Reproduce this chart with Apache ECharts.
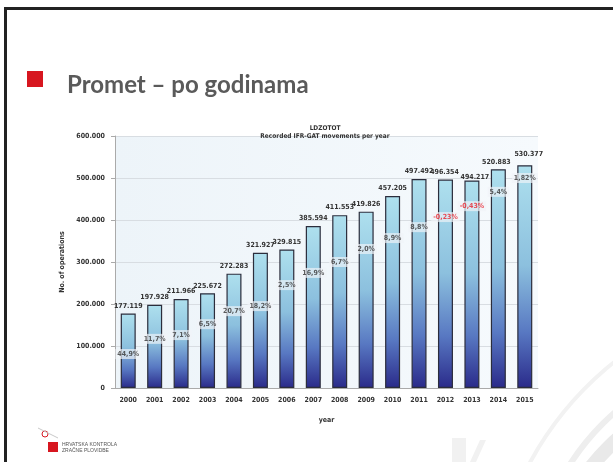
<!DOCTYPE html>
<html>
<head>
<meta charset="utf-8">
<script src="https://cdn.jsdelivr.net/npm/echarts@6/dist/echarts.min.js"></script>
<style>
html,body{margin:0;padding:0;background:#fff;}
#c{width:613px;height:462px;}
</style>
</head>
<body>
<div id="c"></div>
<script>
const years = ['2000','2001','2002','2003','2004','2005','2006','2007','2008','2009','2010','2011','2012','2013','2014','2015'];
const movements = [177119,197928,211966,225672,272283,321927,329815,385594,411553,419826,457205,497492,496354,494217,520883,530377];
const growthLabels = ['44,9%','11,7%','7,1%','6,5%','20,7%','18,2%','2,5%','16,9%','6,7%','2,0%','8,9%','8,8%','-0,23%','-0,43%','5,4%','1,82%'];
// vertical anchor (in operations) where each growth label sits inside its bar
const growthLabelPos = [81000,117000,126000,152000,183000,195000,245000,274000,300000,331000,357000,383000,407000,433000,467000,500000];
const yMin = 0, yMax = 600000, yStep = 100000;

function fmt(v){ return String(v).replace(/\B(?=(\d{3})+(?!\d))/g, '.'); }

const chart = echarts.init(document.getElementById('c'), null, {renderer:'canvas'});
const F = 'DejaVu Sans Condensed, DejaVu Sans';
const axisFont = {fontFamily:F, fontWeight:'bold', fontSize:7, color:'#333'};
// small per-label nudges so crowded value labels do not collide
const valueLabelOffsets = {12:[-1,0], 13:[3,4], 14:[-2,0], 15:[4,-4]};

chart.setOption({
  animation:false,
  backgroundColor:'#ffffff',
  title:[
    {text:'Promet – po godinama', left:62, top:68,
     textStyle:{fontFamily:'Lato', fontWeight:'bold', fontSize:24, color:'#5a5a5a'}},
    {text:'LDZOTOT', subtext:'Recorded IFR-GAT movements per year', left:320, top:120, textAlign:'center', itemGap:1,
     textStyle:{fontFamily:F, fontWeight:'bold', fontSize:6.5, color:'#333'},
     subtextStyle:{fontFamily:F, fontWeight:'bold', fontSize:6.5, color:'#333'}}
  ],
  graphic:[
    {type:'rect', shape:{x:5, y:7, width:610, height:3}, style:{fill:'#222'}},
    {type:'rect', shape:{x:4, y:7, width:3, height:460}, style:{fill:'#222'}},
    {type:'rect', shape:{x:27, y:71, width:16, height:16}, style:{fill:'#d7161f'}},
    {type:'arc', shape:{cx:820, cy:620, r:330, startAngle:Math.PI*1.05, endAngle:Math.PI*1.5}, style:{stroke:'#f2f2f2', lineWidth:4, fill:null}, z:-1},
    {type:'arc', shape:{cx:780, cy:600, r:250, startAngle:Math.PI*1.0, endAngle:Math.PI*1.5}, style:{stroke:'#eeeeee', lineWidth:6, fill:null}, z:-1},
    {type:'arc', shape:{cx:760, cy:600, r:215, startAngle:Math.PI*1.0, endAngle:Math.PI*1.5}, style:{stroke:'#e9e9e9', lineWidth:14, fill:null}, z:-1},
    {type:'arc', shape:{cx:740, cy:610, r:175, startAngle:Math.PI*1.0, endAngle:Math.PI*1.5}, style:{stroke:'#e6e6e6', lineWidth:16, fill:null}, z:-1},
    {type:'rect', shape:{x:452, y:438, width:14, height:30}, style:{fill:'#f1f1f1'}, z:-1},
    {type:'polygon', shape:{points:[[470,462],[480,440],[486,440],[476,462]]}, style:{fill:'#f1f1f1'}, z:-1},
    {type:'rect', shape:{x:48, y:442, width:10, height:10}, style:{fill:'#d7161f'}},
    {type:'circle', shape:{cx:45, cy:434, r:3}, style:{fill:'none', stroke:'#d7161f', lineWidth:1}},
    {type:'line', shape:{x1:38, y1:428, x2:58, y2:438}, style:{stroke:'#c9c9c9', lineWidth:1}},
    {type:'text', style:{x:62, y:441, text:'HRVATSKA KONTROLA\nZRAČNE PLOVIDBE', fontSize:5, lineHeight:6.5, fontFamily:'Liberation Sans Narrow, Liberation Sans', fill:'#555'}}
  ],
  grid:{left:115, top:136, width:423, height:252, show:true, borderWidth:0,
        backgroundColor:{type:'linear', x:0, y:0, x2:1, y2:0, colorStops:[{offset:0,color:'#edf4f9'},{offset:1,color:'#f6fafd'}]}},
  xAxis:{type:'category', data:years, name:'year', nameLocation:'middle', nameGap:29,
         nameTextStyle:{fontFamily:F, fontWeight:'bold', fontSize:7, color:'#333'},
         axisLine:{lineStyle:{color:'#aaa'}}, axisTick:{show:false},
         axisLabel:Object.assign({margin:9, interval:0}, axisFont)},
  yAxis:{type:'value', min:yMin, max:yMax, interval:yStep, name:'No. of operations', nameLocation:'middle', nameGap:38,
         nameTextStyle:{fontFamily:F, fontWeight:'bold', fontSize:7, color:'#333'},
         axisLine:{show:true, lineStyle:{color:'#aaa'}}, axisTick:{show:true, length:4, lineStyle:{color:'#aaa'}},
         splitLine:{lineStyle:{color:'#d8dde2'}},
         axisLabel:Object.assign({margin:10, formatter:fmt}, axisFont)},
  series:[
    {type:'bar', barWidth:15,
     data:movements.map((v,i)=> valueLabelOffsets[i] ? {value:v, label:{offset:valueLabelOffsets[i]}} : v),
     itemStyle:{borderColor:'#2b2d3c', borderWidth:1.2,
       color:{type:'linear', x:0, y:0, x2:0, y2:1, colorStops:[
         {offset:0,color:'#aee0ee'},{offset:0.45,color:'#8cc0de'},{offset:0.75,color:'#5878c2'},{offset:1,color:'#2a2a8a'}]}},
     label:{show:true, position:'top', distance:4, formatter:p=>fmt(p.value),
            fontFamily:F, fontWeight:'bold', fontSize:7, color:'#333'}},
    {type:'scatter', symbolSize:0, z:5, silent:true,
     data:growthLabelPos.map((v,i)=>({value:v, label:{color: growthLabels[i].startsWith('-') ? '#e8202a' : '#333'}})),
     label:{show:true, position:'inside', formatter:p=>growthLabels[p.dataIndex],
            fontFamily:F, fontWeight:'bold', fontSize:7,
            backgroundColor:'rgba(240,244,248,0.85)', padding:[2,2,1,2]}}
  ]
});
</script>
</body>
</html>
